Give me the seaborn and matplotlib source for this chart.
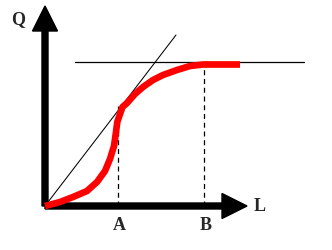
import matplotlib
matplotlib.use("Agg")
import matplotlib.pyplot as plt
import seaborn as sns
import pandas as pd

# production curve (L, Q)
curve_L = [0, 15, 28, 42, 52, 60, 65, 69, 71, 72.3, 75, 77.5, 82, 90, 98, 108, 118, 132, 145, 158, 195]
curve_Q = [0, 4, 9, 15, 24, 35, 47, 60, 74, 84, 92, 99, 103, 112, 119, 126, 131, 136, 140, 141.5, 141.5]

tangent_L = [0, 131]
tangent_Q = [0, 171]
max_Q = 144
max_line_L = [30, 259]
point_A = 73
point_B = 159
A_top = 100
axis_len_x = 202
axis_len_y = 200
labels = {"Q": (-27, 187), "L": (215, 0), "A": (74, -19), "B": (161, -19)}

sns.set_style("white")
fig = plt.figure(figsize=(3.32, 2.51), dpi=100)
ax = fig.add_axes([0, 0, 1, 1])

# axes arrows
ax.arrow(0, 0, 0, axis_len_y, width=6, head_width=25, head_length=25,
         length_includes_head=True, color="black", zorder=2)
ax.arrow(0, 0, axis_len_x, 0, width=6, head_width=25, head_length=25,
         length_includes_head=True, color="black", zorder=2)

# thin lines
ax.plot(tangent_L, tangent_Q, color="black", lw=0.75, zorder=3)
ax.plot(max_line_L, [max_Q, max_Q], color="black", lw=0.9, zorder=3)
ax.plot([point_A, point_A], [0, A_top], color="black", lw=0.9, ls=(0, (4, 3)), zorder=3)
ax.plot([point_B, point_B], [0, max_Q], color="black", lw=0.9, ls=(0, (4, 3)), zorder=3)

df = pd.DataFrame({"L": curve_L, "Q": curve_Q})
sns.lineplot(data=df, x="L", y="Q", sort=False, estimator=None, color="#ff0000",
             lw=4.8, ax=ax, zorder=4, solid_capstyle="butt", solid_joinstyle="round")
ax.set_xlim(-45, 287)
ax.set_ylim(-44, 207)
ax.axis("off")

for t, (x, y) in labels.items():
    ax.text(x, y, t, fontsize=13, fontweight="bold", family="Liberation Serif",
            ha="center", va="center")

fig.savefig("out.png", dpi=100)
